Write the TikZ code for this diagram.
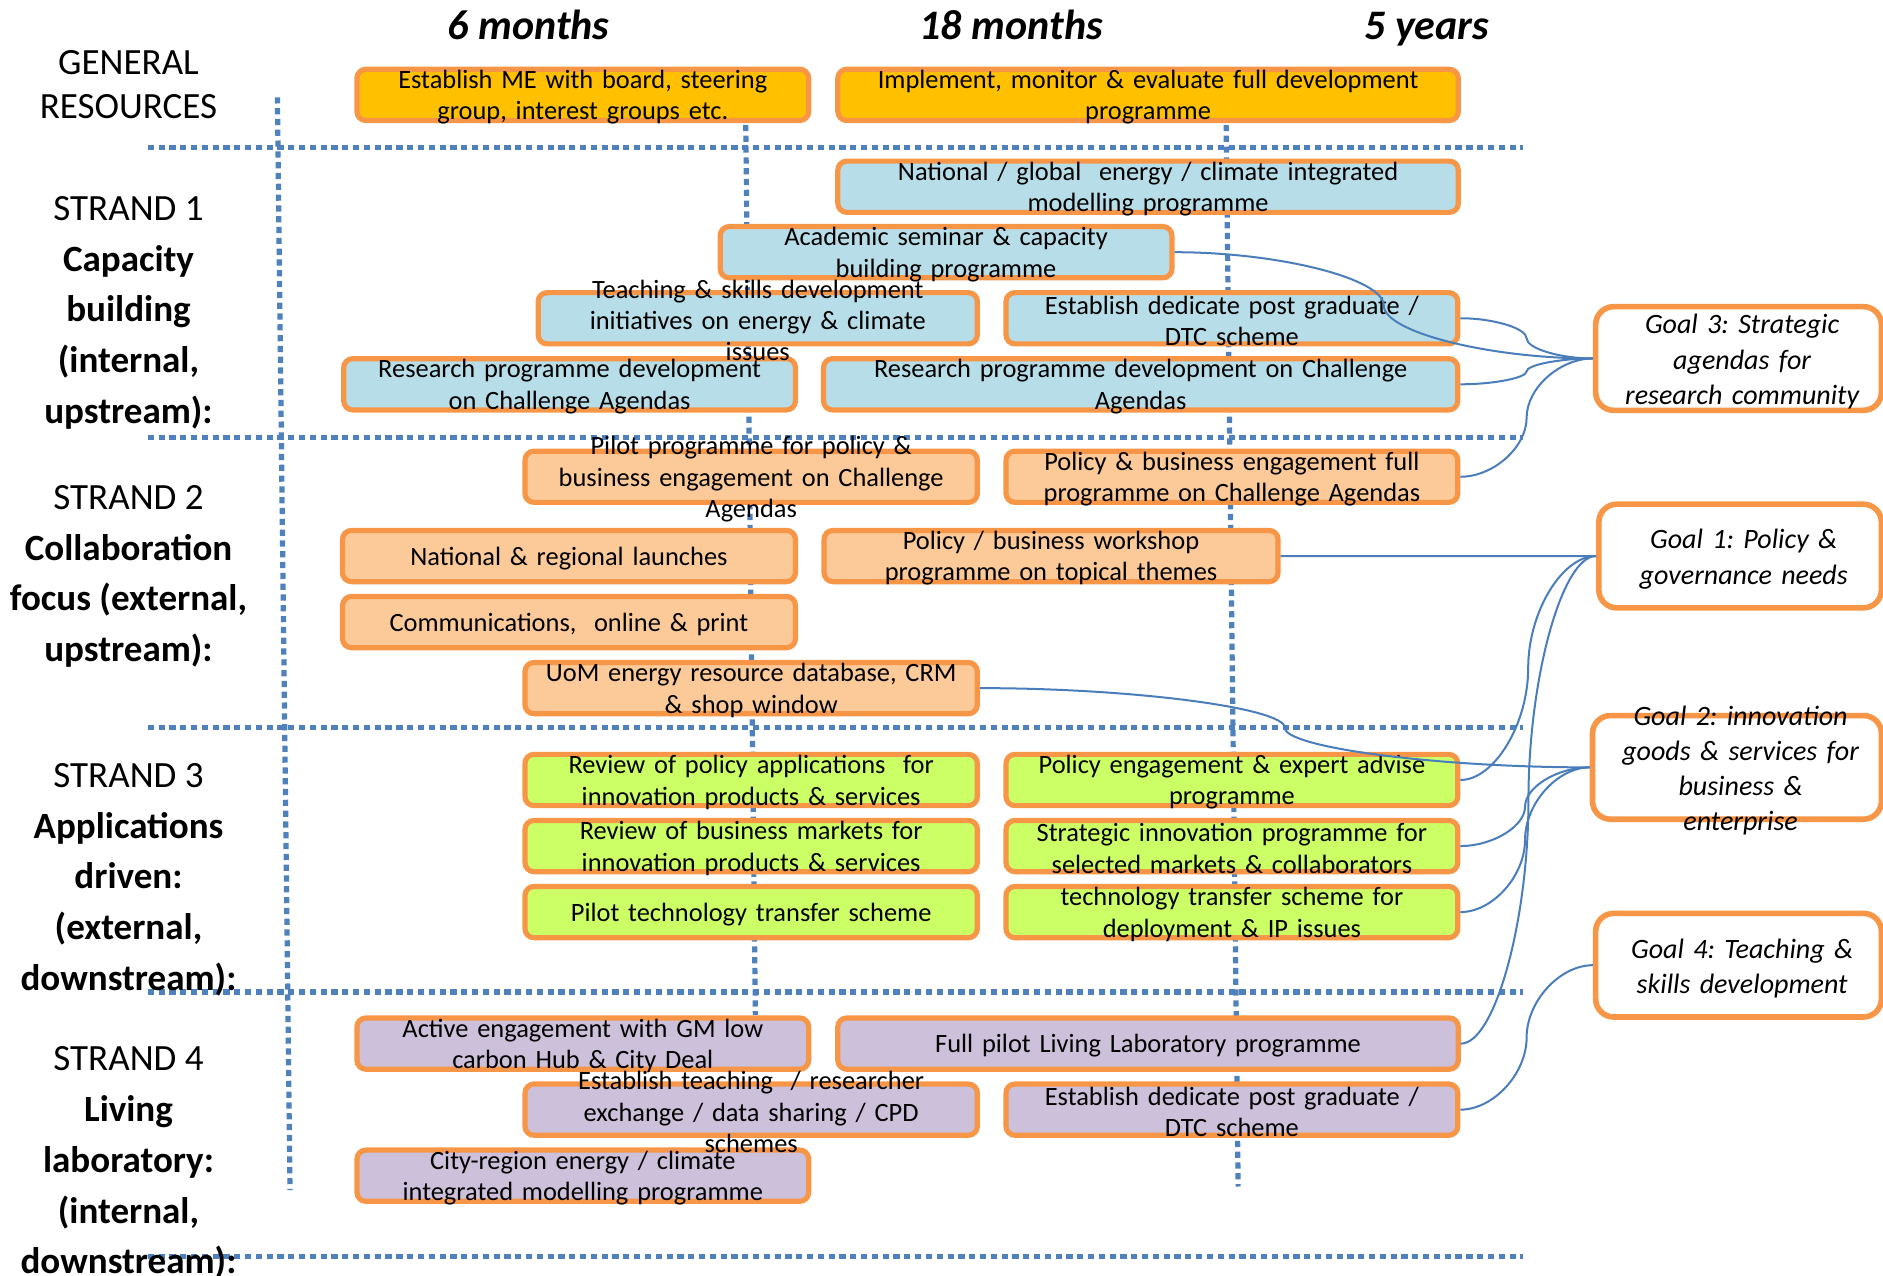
\documentclass[tikz,border=0pt]{standalone}
\usepackage{fontspec}
\setmainfont{Carlito}
\usepackage{tikz}
\usetikzlibrary{calc}
\definecolor{gridblue}{RGB}{79,129,189}
\definecolor{linkblue}{RGB}{74,126,187}
\definecolor{boxorange}{RGB}{247,150,70}
\definecolor{goldfill}{RGB}{255,192,0}
\definecolor{bluefill}{RGB}{183,222,232}
\definecolor{peachfill}{RGB}{252,201,152}
\definecolor{limefill}{RGB}{204,255,102}
\definecolor{lilacfill}{RGB}{204,192,218}
\frenchspacing

\tikzset{
  dotline/.style={gridblue, line width=2.6pt, dash pattern=on 3.1pt off 2.3pt},
  taskbox/.style={draw=boxorange, line width=2.6pt, rounded corners=4.5pt, minimum height=25.6pt, inner sep=0pt},
  tasktext/.style={text width=300pt, align=center, inner sep=0pt, font=\fontsize{13.2}{15.6}\selectfont},
  goalbox/.style={draw=boxorange, fill=white, line width=2.8pt, rounded corners=9pt, minimum height=51.8pt, inner sep=0pt},
  goaltext/.style={text width=160pt, align=center, inner sep=0pt, font=\itshape\fontsize{14}{17.6}\selectfont},
  head/.style={anchor=base, inner sep=0pt, font=\bfseries\itshape\fontsize{21}{25}\selectfont},
  strandlbl/.style={align=center, inner sep=0pt, font=\fontsize{18.5}{25.4}\selectfont},
  curvcon/.style={to path={let \p1=(\tikztostart), \p2=(\tikztotarget) in
    .. controls ({0.75*\x1+0.25*\x2},\y1) and ({0.5*\x1+0.5*\x2},{0.75*\y1+0.25*\y2})
    .. ({0.5*\x1+0.5*\x2},{0.5*\y1+0.5*\y2})
    .. controls ({0.5*\x1+0.5*\x2},{0.25*\y1+0.75*\y2}) and ({0.25*\x1+0.75*\x2},\y2)
    .. (\tikztotarget)}},
  link/.style={linkblue, line width=1pt, curvcon}
}

% name/fill/x/y/width/text
\newcommand{\tasklist}{%
gra/goldfill/485.3/79/380.5/{Establish ME with board, steering\\group, interest groups etc.},%
grb/goldfill/956/79/521/{Implement, monitor \& evaluate full development\\programme},%
natmod/bluefill/956/155.5/521/{National / global\ \ energy / climate integrated\\modelling programme},%
acad/bluefill/787.8/210/380.5/{Academic seminar \& capacity\\building programme},%
teach/bluefill/631/265/370/{Teaching \& skills development\\initiatives on energy \& climate\\issues},%
pgA/bluefill/1025.8/265/380.5/{Establish dedicate post graduate /\\DTC scheme},%
resA/bluefill/474.3/320/380.5/{Research programme development\\on Challenge Agendas},%
resB/bluefill/949.8/320/532.4/{Research programme development on Challenge\\Agendas},%
pilot/peachfill/625.5/397/381/{Pilot programme for policy \&\\business engagement on Challenge\\Agendas},%
polfull/peachfill/1025.8/397/380.5/{Policy \& business engagement full\\programme on Challenge Agendas},%
launch/peachfill/473.8/463/381.5/{National \& regional launches},%
workshop/peachfill/875.2/463/382.4/{Policy / business workshop\\programme on topical themes},%
comms/peachfill/473.8/518/381.5/{Communications,\ \ online \& print},%
uom/peachfill/625.5/573/381/{UoM energy resource database, CRM\\\& shop window},%
revpol/limefill/625.5/649.5/381/{Review of policy applications\ \ for\\innovation products \& services},%
polexp/limefill/1025.8/649.5/380.5/{Policy engagement \& expert advise\\programme},%
revbus/limefill/625.5/704.5/381/{Review of business markets for\\innovation products \& services},%
strat/limefill/1025.8/704.5/380.5/{Strategic innovation programme for\\selected markets \& collaborators},%
pilottech/limefill/625.5/759.5/381/{Pilot technology transfer scheme},%
techtr/limefill/1025.8/759.5/380.5/{technology transfer scheme for\\deployment \& IP issues},%
active/lilacfill/485.3/869/380.5/{Active engagement with GM low\\carbon Hub \& City Deal},%
livlab/lilacfill/956/869/521/{Full pilot Living Laboratory programme},%
exch/lilacfill/625.5/924/381/{Establish teaching\ \ / researcher\\exchange / data sharing / CPD\\schemes},%
pgB/lilacfill/1025.8/924/380.5/{Establish dedicate post graduate /\\DTC scheme},%
cityreg/lilacfill/485.3/979/380.5/{City-region energy / climate\\integrated modelling programme}%
}

\begin{document}
\begin{tikzpicture}[x=0.6pt, y=-0.6pt]
    \useasboundingbox (0,0) rectangle (1568,1062);

    % Dotted grid
    \foreach \gy in {123,364,606,826,1046}
        \draw[dotline] (123,\gy) -- (1268,\gy);
    \draw[dotline] (231,81) -- (241.5,991);
    \draw[dotline] (621,104) -- (629,845);
    \draw[dotline] (1021,104) -- (1031,988);

    % Time headings
    \node[head] (m6) at (440,33) {6 months};
    \node[head] (m18) at (842,33) {18 months};
    \node[head] (y5) at (1188,33) {5 years};

    % Strand labels
    \node[strandlbl, font=\fontsize{18.5}{21.6}\selectfont] (gen) at (107,70.5) {GENERAL\\RESOURCES};
    \node[strandlbl] (s1) at (107,260.5) {STRAND 1\\\textbf{Capacity}\\\textbf{building}\\\textbf{(internal,}\\\textbf{upstream):}};
    \node[strandlbl] (s2) at (107,480) {STRAND 2\\\textbf{Collaboration}\\\textbf{focus (external,}\\\textbf{upstream):}};
    \node[strandlbl] (s3) at (107,732.5) {STRAND 3\\\textbf{Applications}\\\textbf{driven:}\\\textbf{(external,}\\\textbf{downstream):}};
    \node[strandlbl] (s4) at (107,968.5) {STRAND 4\\\textbf{Living}\\\textbf{laboratory:}\\\textbf{(internal,}\\\textbf{downstream):}};

    % Activity boxes, then their texts on top
    \foreach \n/\col/\x/\y/\w/\txt in \tasklist
        \node[taskbox, fill=\col, minimum width={\w*0.6pt-2.6pt}] (\n) at (\x,\y) {};
    \foreach \n/\col/\x/\y/\w/\txt in \tasklist
        \node[tasktext] (\n-t) at ([yshift=-1.2pt]\n.center) {\txt};

    % Goals
    \foreach \n/\x/\y/\w/\txt in {%
        g3/1447.7/298.5/242.6/{Goal 3: Strategic\\agendas for\\research community},%
        g1/1449/463/240/{Goal 1: Policy \&\\governance needs},%
        g2/1446.4/639/245.3/{Goal 2: innovation\\goods \& services for\\business \&\\enterprise},%
        g4/1447.7/803.7/242.6/{Goal 4: Teaching \&\\skills development}%
    }{
        \node[goalbox, minimum width={\w*0.6pt-2.8pt}] (\n) at (\x,\y) {};
        \node[goaltext] (\n-t) at ([xshift=1.8pt,yshift=-1.6pt]\n.center) {\txt};
    }

    % Links to goals
    \foreach \src/\dst in {acad/g3,pgA/g3,resB/g3,polfull/g3,workshop/g1,polexp/g1,livlab/g1,uom/g2,strat/g2,techtr/g2,pgB/g4}
        \draw[link] (\src.east) to (\dst.west);
\end{tikzpicture}
\end{document}
